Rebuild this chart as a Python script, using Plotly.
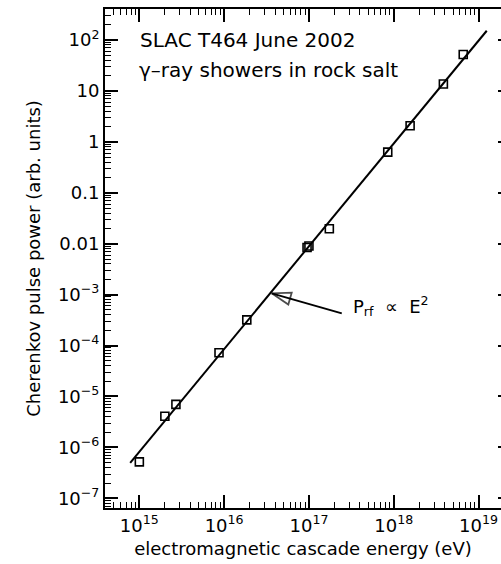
import plotly.graph_objects as go

# --- data ---
energy_eV = [1.0e15, 2.0e15, 2.7e15, 8.7e15, 1.85e16, 9.5e16, 1.0e17, 1.74e17,
             8.5e17, 1.56e18, 3.85e18, 6.6e18]
power_arb = [5.2e-7, 4.1e-6, 7.0e-6, 7.2e-5, 3.2e-4, 8.4e-3, 9.0e-3, 1.96e-2,
             0.63, 2.07, 13.7, 52.0]

fit_E = [7.8e14, 1.25e19]
fit_P = [4.95e-7, 152.0]

arrow_E = [2.44e17, 3.64e16]
arrow_P = [4.28e-4, 1.06e-3]

x_tickvals = [1e15, 1e16, 1e17, 1e18, 1e19]
x_ticktext = ["10<sup>15</sup>", "10<sup>16</sup>", "10<sup>17</sup>",
              "10<sup>18</sup>", "10<sup>19</sup>"]
y_tickvals = [1e2, 1e1, 1e0, 1e-1, 1e-2, 1e-3, 1e-4, 1e-5, 1e-6, 1e-7]
y_ticktext = ["10<sup>2</sup>", "10", "1", "0.1", "0.01", "10<sup>−3</sup>",
              "10<sup>−4</sup>", "10<sup>−5</sup>", "10<sup>−6</sup>", "10<sup>−7</sup>"]

x_minor = [m * 10.0 ** k for k in range(14, 20) for m in range(2, 10)]
y_minor = [m * 10.0 ** k for k in range(-8, 3) for m in range(2, 10)]

FONT = "DejaVu Sans"
fs = 18
fs_note = 20

fig = go.Figure()
fig.add_trace(go.Scatter(x=fit_E, y=fit_P, mode="lines",
                         line=dict(color="black", width=2), showlegend=False))
fig.add_trace(go.Scatter(x=energy_eV, y=power_arb, mode="markers",
                         marker=dict(symbol="square-open", size=8, color="black",
                                     line=dict(width=1.6, color="black")),
                         showlegend=False))
fig.add_trace(go.Scatter(x=arrow_E, y=arrow_P, mode="lines+markers",
                         line=dict(color="black", width=2),
                         marker=dict(symbol=["circle", "arrow-open"], size=[0, 20],
                                     angleref="previous", color="black",
                                     line=dict(width=1.8, color="black")),
                         showlegend=False))
fig.add_trace(go.Scatter(x=[], y=[], yaxis="y2", showlegend=False))

fig.update_layout(
    width=501, height=564,
    margin=dict(l=105, r=0, t=9, b=56),
    paper_bgcolor="white", plot_bgcolor="white",
    font=dict(family=FONT, size=fs, color="black"),
    xaxis=dict(type="log", range=[14.595, 19.265],
               tickmode="array", tickvals=x_tickvals, ticktext=x_ticktext,
               ticks="inside", ticklen=13, tickwidth=1.5, tickcolor="black",
               minor=dict(tickmode="array", tickvals=x_minor, ticks="inside",
                          ticklen=6, tickwidth=1.3, tickcolor="black", showgrid=False),
               showline=True, linewidth=2, linecolor="black", mirror="ticks",
               showgrid=False, zeroline=False,
               tickfont=dict(family=FONT, size=fs),
               title=dict(text="electromagnetic cascade energy (eV)",
                          font=dict(family=FONT, size=fs), standoff=8)),
    yaxis=dict(type="log", range=[-7.19, 2.609],
               tickmode="array", tickvals=y_tickvals, ticktext=y_ticktext,
               ticks="inside", ticklen=13, tickwidth=1.5, tickcolor="black",
               minor=dict(tickmode="array", tickvals=y_minor, ticks="inside",
                          ticklen=6, tickwidth=1.3, tickcolor="black", showgrid=False),
               showline=True, linewidth=2, linecolor="black", mirror=False,
               showgrid=False, zeroline=False,
               tickfont=dict(family=FONT, size=fs),
               title=dict(text="Cherenkov pulse power (arb. units)",
                          font=dict(family=FONT, size=fs), standoff=13)),
    yaxis2=dict(type="log", range=[-7.19, 2.609], overlaying="y", side="right",
                tickmode="array", tickvals=y_tickvals, ticks="inside", ticklen=3,
                tickwidth=1.5, tickcolor="black", showticklabels=False,
                showline=False, showgrid=False, zeroline=False),
    annotations=[
        dict(text="SLAC T464 June 2002", xref="paper", yref="paper",
             x=0.083, y=0.938, xanchor="left", yanchor="middle", showarrow=False,
             font=dict(family=FONT, size=fs_note)),
        dict(text="γ–ray showers in rock salt", xref="paper", yref="paper",
             x=0.080, y=0.878, xanchor="left", yanchor="middle", showarrow=False,
             font=dict(family=FONT, size=fs_note)),
        dict(text="P<sub>rf</sub>  ∝  E<sup>2</sup>", xref="paper", yref="paper",
             x=0.62, y=0.405, xanchor="left", yanchor="middle", showarrow=False,
             font=dict(family=FONT, size=fs)),
    ],
)

fig.write_html("out.html")
